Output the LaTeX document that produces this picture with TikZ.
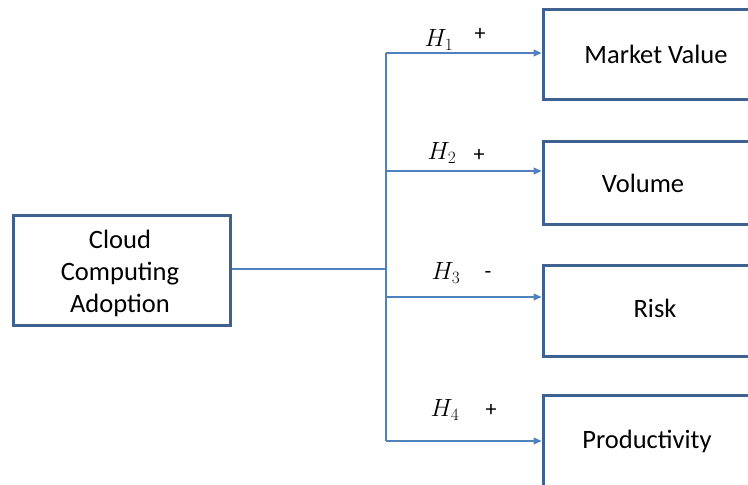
\documentclass[tikz,border=0pt]{standalone}
\usepackage{fontspec}
\setmainfont{Carlito}
\usetikzlibrary{arrows.meta}
\definecolor{boxblue}{HTML}{3F6190}
\definecolor{lineblue}{HTML}{4F81BD}
\tikzset{
  box/.style={draw=boxblue, line width=3pt, rectangle, inner sep=0pt},
  conn/.style={draw=lineblue, line width=1.3pt},
  arr/.style={conn, -{Triangle[length=8pt,width=7pt]}},
  txt/.style={font=\fontsize{26.5}{32}\selectfont, inner sep=0pt, align=center},
  hyp/.style={font=\fontsize{26}{30}\selectfont, inner sep=0pt},
}
\begin{document}
\begin{tikzpicture}[x=1pt,y=-1pt]
\useasboundingbox (0,0) rectangle (748,485);
% left box
\node[box, minimum width=217pt, minimum height=110pt] (cca) at (121.5,270) {};
\node[txt] (ccat) at (120,273) {Cloud\\Computing\\Adoption};
% right boxes
\node[box, minimum width=230pt, minimum height=90pt] (b1) at (658,54) {};
\node[box, minimum width=230pt, minimum height=83pt] (b2) at (658,182.5) {};
\node[box, minimum width=230pt, minimum height=91pt] (b3) at (658,310.5) {};
\node[box, minimum width=230pt, minimum height=100pt] (b4) at (658,445) {};
\node[txt] (t1) at (656,54) {Market Value};
\node[txt] (t2) at (643,183) {Volume};
\node[txt] (t3) at (655,308) {Risk};
\node[txt] (t4) at (647,441) {Productivity};
% junction coordinates
\coordinate (jc) at (386,269);
\coordinate (j1) at (386,53);
\coordinate (j2) at (386,171);
\coordinate (j3) at (386,297);
\coordinate (j4) at (386,441);
% connectors
\draw[conn] (cca.east |- jc) -- (jc);
\draw[conn] (j1) -- (j4);
\draw[arr] (j1) -- (j1 -| b1.west);
\draw[arr] (j2) -- (j2 -| b2.west);
\draw[arr] (j3) -- (j3 -| b3.west);
\draw[arr] (j4) -- (j4 -| b4.west);
% hypothesis labels
\node[hyp] (h1) at (439,40) {$H_1$};
\node[hyp] (s1) at (480,34) {\fontsize{22}{26}\selectfont +};
\node[hyp] (h2) at (442,153) {$H_2$};
\node[hyp] (s2) at (479,155) {\fontsize{22}{26}\selectfont +};
\node[hyp] (h3) at (446,273) {$H_3$};
\node[hyp] (s3) at (488,275) {\fontsize{22}{26}\selectfont -};
\node[hyp] (h4) at (445,410) {$H_4$};
\node[hyp] (s4) at (491,410) {\fontsize{22}{26}\selectfont +};
\end{tikzpicture}
\end{document}
